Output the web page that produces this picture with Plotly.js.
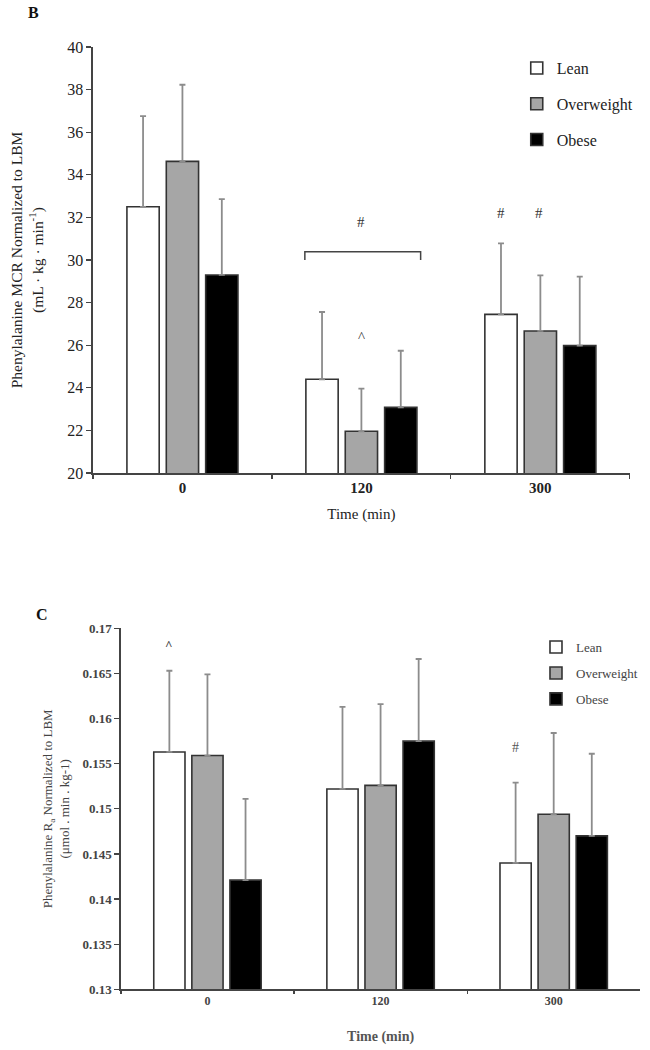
<!DOCTYPE html>
<html>
<head>
<meta charset="utf-8">
<script src="https://cdn.plot.ly/plotly-3.0.1.min.js"></script>
<style>html,body{margin:0;padding:0;background:#fff;}#chart{width:650px;height:1050px;}</style>
</head>
<body>
<div id="chart"></div>
<script>
// ---- data ----
var timePoints = ['0', '120', '300'];
var groupNames = ['Lean', 'Overweight', 'Obese'];

// Panel B: Phenylalanine MCR normalized to LBM
var mcrLean = [32.5, 24.4, 27.45];
var mcrLeanSD = [4.26, 3.16, 3.33];
var mcrOverweight = [34.63, 21.96, 26.67];
var mcrOverweightSD = [3.6, 2.0, 2.61];
var mcrObese = [29.3, 23.08, 25.98];
var mcrObeseSD = [3.56, 2.66, 3.24];

// Panel C: Phenylalanine Ra normalized to LBM
var raLean = [0.1563, 0.1522, 0.1440];
var raLeanSD = [0.0090, 0.0091, 0.0089];
var raOverweight = [0.1559, 0.1526, 0.1494];
var raOverweightSD = [0.0090, 0.0090, 0.0090];
var raObese = [0.1421, 0.1575, 0.1470];
var raObeseSD = [0.0090, 0.0091, 0.0091];

// ---- styles ----
var fills = ['#ffffff', '#a6a6a6', '#000000'];
var serif = 'Liberation Serif, Times New Roman, serif';

function makeTrace(name, vals, sds, fill, xa, ya, leg, grp) {
  return {
    type: 'bar', name: name, x: timePoints, y: vals,
    xaxis: xa, yaxis: ya, legend: leg, legendgroup: grp,
    marker: {color: fill, line: {color: '#333333', width: 1.6}},
    error_y: {type: 'data', array: sds, symmetric: false, arrayminus: sds.map(function(){return 0;}),
              color: '#8c8c8c', thickness: 1.8, width: 3},
    hoverinfo: 'x+y'
  };
}

var data = [
  makeTrace(groupNames[0], mcrLean, mcrLeanSD, fills[0], 'x', 'y', 'legend', 'a1'),
  makeTrace(groupNames[1], mcrOverweight, mcrOverweightSD, fills[1], 'x', 'y', 'legend', 'a2'),
  makeTrace(groupNames[2], mcrObese, mcrObeseSD, fills[2], 'x', 'y', 'legend', 'a3'),
  makeTrace(groupNames[0], raLean, raLeanSD, fills[0], 'x2', 'y2', 'legend2', 'b1'),
  makeTrace(groupNames[1], raOverweight, raOverweightSD, fills[1], 'x2', 'y2', 'legend2', 'b2'),
  makeTrace(groupNames[2], raObese, raObeseSD, fills[2], 'x2', 'y2', 'legend2', 'b3')
];

function note(text, xref, yref, x, y, size, color, angle) {
  return {text: text, xref: xref, yref: yref, x: x, y: y, xanchor: 'center', yanchor: 'middle',
          textangle: angle || 0, showarrow: false, font: {family: serif, size: size, color: color}};
}

var axisLine = '#444444';
var layout = {
  width: 650, height: 1050,
  margin: {l: 0, r: 0, t: 0, b: 0},
  paper_bgcolor: '#ffffff', plot_bgcolor: '#ffffff',
  barmode: 'group', bargap: 0.34, bargroupgap: 0.18,
  font: {family: serif, color: '#222222'},
  xaxis: {
    domain: [0.143, 0.969], anchor: 'y', type: 'category', range: [-0.5, 2.5],
    showline: true, linecolor: axisLine, linewidth: 1.5,
    ticks: 'outside', tickson: 'boundaries', ticklen: 4, tickcolor: axisLine, tickwidth: 1.2,
    tickfont: {family: serif, size: 15, color: '#222', weight: 'bold'},
    title: {text: 'Time (min)', standoff: 14, font: {family: serif, size: 15, color: '#222'}},
    showgrid: false, zeroline: false, fixedrange: true
  },
  yaxis: {
    domain: [0.5495, 0.9552], anchor: 'x', range: [20, 40], dtick: 2,
    showline: true, linecolor: axisLine, linewidth: 1.5,
    ticks: 'outside', ticklen: 5, tickcolor: axisLine, tickwidth: 1.2,
    tickfont: {family: serif, size: 16, color: '#222'},
    title: {text: 'Phenylalanine MCR Normalized to LBM<br>(mL · kg · min<sup>-1</sup>)', standoff: 20,
            font: {family: serif, size: 15.5, color: '#222'}},
    showgrid: false, zeroline: false, fixedrange: true
  },
  xaxis2: {
    domain: [0.186, 0.985], anchor: 'y2', type: 'category', range: [-0.5, 2.5],
    showline: true, linecolor: axisLine, linewidth: 1.5,
    ticks: 'outside', tickson: 'boundaries', ticklen: 3, tickcolor: axisLine, tickwidth: 1.2,
    tickfont: {family: serif, size: 12, color: '#444', weight: 'bold'},
    title: {text: '<b>Time (min)</b>', standoff: 24, font: {family: serif, size: 14, color: '#555'}},
    showgrid: false, zeroline: false, fixedrange: true
  },
  yaxis2: {
    domain: [0.0578, 0.4016], anchor: 'x2', range: [0.13, 0.17], dtick: 0.005,
    showline: true, linecolor: axisLine, linewidth: 1.5,
    ticks: 'outside', ticklen: 5, tickcolor: axisLine, tickwidth: 1.2,
    tickfont: {family: serif, size: 13, color: '#444', weight: 'bold'},
    title: {text: 'Phenylalanine R<sub>a</sub> Normalized to LBM<br>(μmol . min . kg-1)', standoff: 10,
            font: {family: serif, size: 13, color: '#444'}},
    showgrid: false, zeroline: false, fixedrange: true
  },
  legend: {
    x: 0.795, y: 0.9514, xanchor: 'left', yanchor: 'top',
    bgcolor: 'rgba(0,0,0,0)', borderwidth: 0,
    font: {family: serif, size: 16, color: '#222'},
    traceorder: 'grouped', tracegroupgap: 12, itemwidth: 30, itemclick: false
  },
  legend2: {
    x: 0.8246, y: 0.398, xanchor: 'left', yanchor: 'top',
    bgcolor: 'rgba(0,0,0,0)', borderwidth: 0,
    font: {family: serif, size: 13, color: '#444'},
    traceorder: 'grouped', tracegroupgap: 6, itemwidth: 30, itemclick: false
  },
  shapes: [
    {type: 'path', xref: 'x', yref: 'y', path: 'M 0.684,30.0 L 0.684,30.39 L 1.331,30.39 L 1.331,30.0',
     line: {color: '#444', width: 1.5}}
  ],
  annotations: [
    note('<b>B</b>', 'paper', 'paper', 0.051, 0.988, 16, '#111'),
    note('<b>C</b>', 'paper', 'paper', 0.0646, 0.4143, 16, '#111'),
    // significance markers panel B
    note('#', 'x', 'y', 1.0, 31.8, 15, '#333'),
    note('^', 'x', 'y', 1.0, 26.4, 15, '#333'),
    note('#', 'x', 'y', 1.782, 32.2, 15, '#333'),
    note('#', 'x', 'y', 1.99, 32.2, 15, '#333'),
    // significance markers panel C
    note('<b>^</b>', 'x2', 'y2', -0.22, 0.1682, 13, '#444'),
    note('#', 'x2', 'y2', 1.78, 0.1568, 14, '#555')
  ]
};

Plotly.newPlot('chart', data, layout, {displayModeBar: false, staticPlot: true});
</script>
</body>
</html>
